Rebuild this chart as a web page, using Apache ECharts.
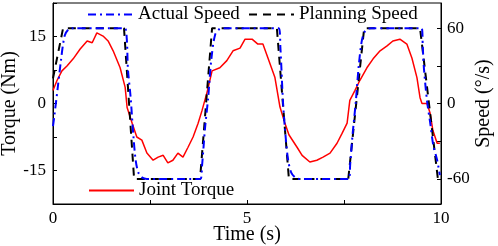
<!DOCTYPE html>
<html>
<head>
<meta charset="utf-8">
<script src="https://cdn.jsdelivr.net/npm/echarts@6/dist/echarts.min.js"></script>
<style>html,body{margin:0;padding:0;background:#fff;}#c{width:498px;height:246px;}</style>
</head>
<body>
<div id="c"></div>
<script>
const planTime = [0, 0.26, 1.83, 2.09, 3.79, 4.10, 5.77, 6.08, 7.61, 8.02, 9.46, 9.92, 10];
const planSpeed = [20, 60, 60, -60, -60, 60, 60, -60, -60, 60, 60, -60, -60];

const actualTime = [0, 0.03, 0.12, 0.2, 0.3, 0.4, 0.5,
  1.84, 1.9, 1.93, 2.0, 2.07, 2.13, 2.2, 2.3, 2.42,
  3.8, 3.84, 3.92, 4.0, 4.08, 4.18, 4.3, 4.4,
  5.82, 5.86, 5.93, 6.0, 6.06, 6.14, 6.25, 6.35,
  7.62, 7.66, 7.72, 7.8, 7.88, 7.96, 8.05, 8.2,
  9.5, 9.53, 9.56, 9.64, 9.72, 9.8, 9.9, 9.97];
const actualSpeed = [-18, -11, 12, 33, 54, 59, 60,
  60, 52, 28, 5, -25, -45, -55, -59, -60,
  -60, -50, -19, 5, 35, 55, 59.5, 60,
  60, 45, 0, -28, -45, -55, -59, -60,
  -60, -48, -25, 0, 30, 50, 58, 60,
  60, 45, 28, 2, -15, -33, -45, -57];

const torqueTime = [0, 0.10, 0.23, 0.36, 0.52, 0.70, 0.88, 1.01, 1.13, 1.29, 1.42, 1.55, 1.73, 1.86, 1.91, 2.04, 2.16, 2.29, 2.42, 2.58, 2.71, 2.84, 2.96, 3.09, 3.22, 3.35, 3.48, 3.61, 3.74, 3.84, 3.97, 4.10, 4.30, 4.48, 4.64, 4.82, 4.95, 5.13, 5.28, 5.41, 5.54, 5.72, 5.85, 5.98, 6.08, 6.29, 6.42, 6.62, 6.80, 6.96, 7.14, 7.32, 7.45, 7.58, 7.65, 7.78, 7.91, 8.09, 8.25, 8.43, 8.61, 8.76, 8.94, 9.12, 9.25, 9.38, 9.46, 9.51, 9.64, 9.72, 9.79, 9.90, 9.97];
const torqueValues = [2.9, 5.1, 7.3, 8.4, 10, 12.2, 14, 13.6, 15.8, 15.1, 14, 11.8, 8, 3.6, -0.9, -4.4, -7.5, -8.2, -11.1, -12.7, -12, -11.6, -13.3, -12.7, -11.1, -12, -9.8, -7.5, -4.4, -1.6, 2.5, 7.3, 8, 9.6, 11.8, 12.4, 14.4, 14.4, 13.3, 13.3, 10.2, 5.8, -0.8, -4.5, -7, -9.8, -11.6, -13.1, -12.7, -12, -11.1, -8.9, -6.7, -4.4, 0.7, 2.9, 5.2, 8, 10, 11.8, 12.9, 14, 14.4, 13.3, 10.2, 5.8, 1.3, 0, 0, -2.2, -6, -8.9, -8.9];

const xLabels = [0, 5, 10];
const torqueLabels = [-15, 0, 15];
const speedTicks = [-60, -30, 0, 30, 60];
const speedLabels = [-60, 0, 60];

const zip = (a, b) => a.map((t, i) => [t, b[i]]);
const FONT = "'Liberation Serif', 'Times New Roman', serif";

const chart = echarts.init(document.getElementById('c'), null, {renderer: 'canvas'});
const legendBase = {
  orient: 'horizontal', padding: 0, itemWidth: 45, itemHeight: 10, itemGap: 6,
  itemStyle: {opacity: 0, borderWidth: 0},
  textStyle: {fontFamily: FONT, fontSize: 19, color: '#000'}
};
chart.setOption({
  animation: false,
  backgroundColor: '#fff',
  grid: {left: 53, right: 57, top: 3, bottom: 42, show: true, borderColor: '#000', borderWidth: 1, containLabel: false, outerBoundsMode: 'none'},
  legend: [
    Object.assign({}, legendBase, {data: ['Actual Speed'], left: 87, top: 5}),
    Object.assign({}, legendBase, {data: ['Planning Speed'], left: 248, top: 5}),
    Object.assign({}, legendBase, {data: ['Joint Torque'], left: 88, top: 181})
  ],
  xAxis: {
    type: 'value', min: 0, max: 10, interval: 2.5,
    name: 'Time (s)', nameLocation: 'middle', nameGap: 21, nameMoveOverlap: false,
    nameTextStyle: {fontFamily: FONT, fontSize: 20, color: '#000'},
    axisLine: {show: true, onZero: false, lineStyle: {color: '#000', width: 1}},
    axisTick: {show: true, inside: true, length: 4, lineStyle: {color: '#000'}},
    axisLabel: {fontFamily: FONT, fontSize: 17, color: '#000', margin: 6,
      formatter: v => xLabels.includes(v) ? String(v) : ''},
    splitLine: {show: false}
  },
  yAxis: [
    {
      type: 'value', min: -22.5, max: 22.5, interval: 7.5, position: 'left',
      name: 'Torque (Nm)', nameLocation: 'middle', nameGap: 33, nameMoveOverlap: false,
      nameTextStyle: {fontFamily: FONT, fontSize: 20, color: '#000'},
      axisLine: {show: true, onZero: false, lineStyle: {color: '#000', width: 1}},
      axisTick: {show: true, inside: true, length: 4, lineStyle: {color: '#000'}},
      axisLabel: {fontFamily: FONT, fontSize: 17, color: '#000', margin: 7,
        formatter: v => torqueLabels.includes(v) ? String(v) : ''},
      splitLine: {show: false}
    },
    {
      type: 'value', min: -80, max: 80, position: 'right',
      name: 'Speed (°/s)', nameLocation: 'middle', nameGap: 33, nameMoveOverlap: false,
      nameTextStyle: {fontFamily: FONT, fontSize: 20, color: '#000'},
      axisLine: {show: true, onZero: false, lineStyle: {color: '#000', width: 1}},
      axisTick: {show: true, inside: true, length: 4, lineStyle: {color: '#000'}, customValues: speedTicks},
      axisLabel: {fontFamily: FONT, fontSize: 17, color: '#000', margin: 6, customValues: speedLabels},
      splitLine: {show: false}
    }
  ],
  series: [
    {
      name: 'Joint Torque', type: 'line', yAxisIndex: 0, symbol: 'none',
      data: zip(torqueTime, torqueValues),
      lineStyle: {color: '#ff0000', width: 1.5}, itemStyle: {color: '#ff0000'}
    },
    {
      name: 'Planning Speed', type: 'line', yAxisIndex: 1, symbol: 'none',
      data: zip(planTime, planSpeed),
      lineStyle: {color: '#000', width: 2, type: [8, 6]}, itemStyle: {color: '#000'}
    },
    {
      name: 'Actual Speed', type: 'line', yAxisIndex: 1, symbol: 'none', smooth: 0.3,
      data: zip(actualTime, actualSpeed),
      lineStyle: {color: '#0000ff', width: 2, type: [8, 4, 2, 4]}, itemStyle: {color: '#0000ff'}
    }
  ]
});
</script>
</body>
</html>
